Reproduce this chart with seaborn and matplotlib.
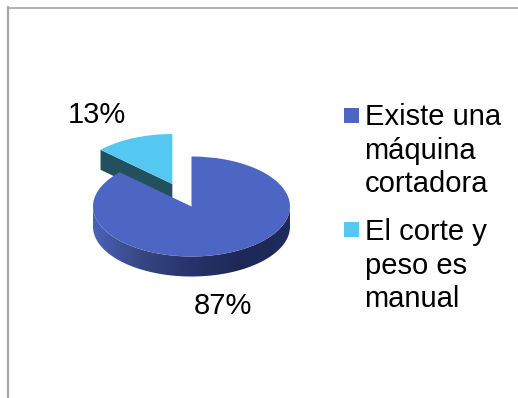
import numpy as np
import matplotlib
matplotlib.use("Agg")
import matplotlib.pyplot as plt
import seaborn as sns
from matplotlib.colors import LinearSegmentedColormap
from matplotlib.patches import Polygon, Rectangle

sns.set_theme(style="white")
plt.rcParams["font.family"] = ["Liberation Sans", "DejaVu Sans"]

categories = ["Existe una\nmáquina\ncortadora", "El corte y\npeso es\nmanual"]
shares = [87, 13]
colors = ["#4D66C4", "#55C8F2"]
wall_color = "#23505F"
rim_colors = ["#4A62B8", "#36467F", "#27336A", "#1D2855", "#1F2B5C"]

W, H = 518, 398
fig = plt.figure(figsize=(W / 100, H / 100), dpi=100, facecolor="white")
ax = fig.add_axes([0, 0, 1, 1])

# Pie centre and radii in pixels; the axes is scaled so one data unit is one radius
cx, cy, rx, ry = 191.5, 206.5, 98.5, 50.0
depth = 20 / ry
explode = [0, 0.49]

wedges, _ = ax.pie(shares, colors=colors, startangle=90, counterclock=False,
                   explode=explode, radius=1, center=(0, 0),
                   wedgeprops=dict(linewidth=0))
ax.set_aspect("auto")
ax.set_axis_off()

# Wall of the pulled-out slice, behind the main slice
small = wedges[1]
sx, sy = small.center
edge = np.deg2rad(max(small.theta1, small.theta2))
ex, ey = sx + np.cos(edge), sy + np.sin(edge)
ax.add_patch(Polygon([(sx, sy), (ex, ey), (ex, ey - depth), (sx, sy - depth)],
                     closed=True, fc=wall_color, ec="none", zorder=0.5))
small.set_zorder(0.6)
wedges[0].set_zorder(3)

# Gradient rim of the main slice, clipped to the visible lower half of the cylinder
t = np.linspace(np.pi, 2 * np.pi, 200)
outline = np.r_[np.c_[np.cos(t), np.sin(t)],
                np.c_[np.cos(t[::-1]), np.sin(t[::-1]) - depth]]
rim = Polygon(outline, closed=True, fc="none", ec="none", zorder=2)
ax.add_patch(rim)
cmap = LinearSegmentedColormap.from_list("rim", rim_colors)
img = ax.imshow(np.linspace(0, 1, 256)[None, :], cmap=cmap, aspect="auto",
                extent=(-1, 1, -1 - depth, 0.0), zorder=2)
img.set_clip_path(rim)
ax.set_xlim(-cx / rx, (W - cx) / rx)
ax.set_ylim(-(H - cy) / ry, cy / ry)


def px(x, y):
    return (x - cx) / rx, (cy - y) / ry


# Percentage labels
label_size = 21.0
ax.text(*px(96.5, 114.5), f"{shares[1]}%", fontsize=label_size, color="black",
        ha="center", va="center", zorder=5)
ax.text(*px(222.5, 306), f"{shares[0]}%", fontsize=label_size, color="black",
        ha="center", va="center", zorder=5)

# Legend entries
for label, color, y_top, sq_y in zip(categories, colors, (103, 218), (108, 222)):
    ax.add_patch(Rectangle(px(344, sq_y + 15), 15 / rx, 15 / ry, fc=color, ec="none", zorder=5))
    ax.text(*px(364.5, y_top), label, fontsize=label_size, color="black", ha="left",
            va="top", linespacing=1.26, zorder=5)

# Chart-area border: top and left sides only
border = "#A6A6A6"
fig.add_artist(plt.Line2D([8 / W, 1], [1 - 7.5 / H] * 2, color=border, lw=1.2))
fig.add_artist(plt.Line2D([8 / W] * 2, [0, 1 - 7 / H], color=border, lw=1.6))

fig.savefig("out.png", dpi=100, facecolor="white")
